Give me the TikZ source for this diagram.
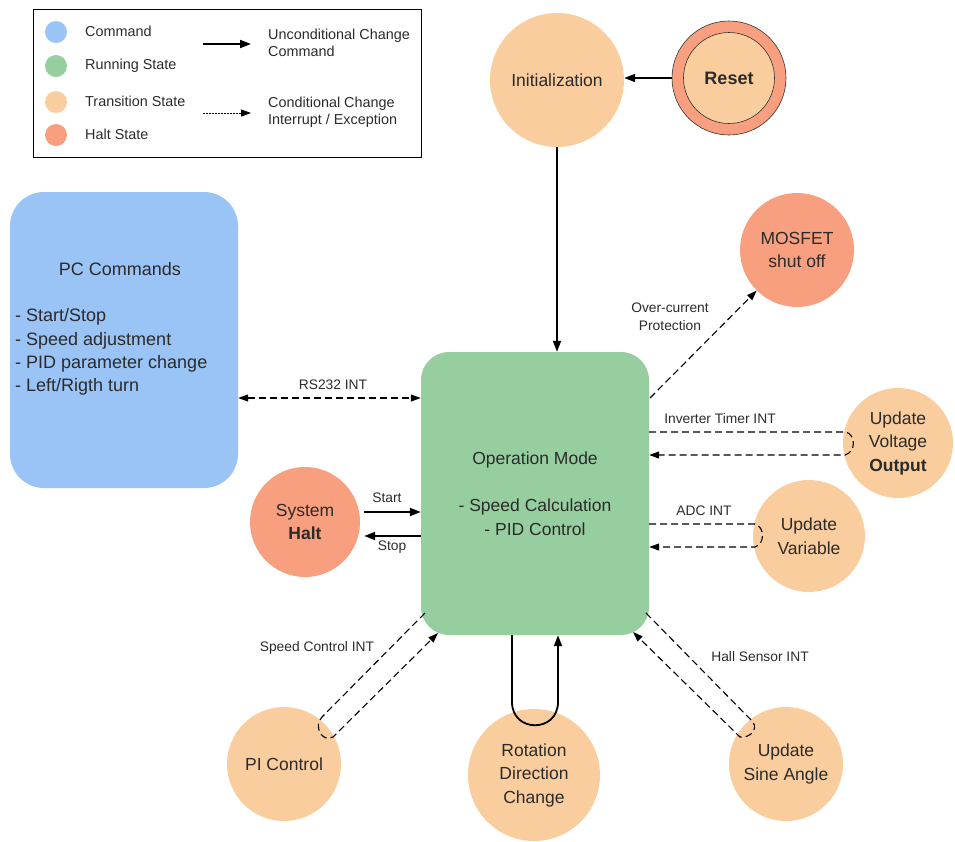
\documentclass[tikz,border=0pt]{standalone}
\usepackage{fontspec}
\setmainfont{Liberation Sans}
\usetikzlibrary{arrows.meta}
\definecolor{cmdblue}{HTML}{9AC3F6}
\definecolor{rungreen}{HTML}{97CE9F}
\definecolor{transpeach}{HTML}{FACD9E}
\definecolor{haltsalmon}{HTML}{F79F7F}
\definecolor{txt}{HTML}{2B2B2B}
\begin{document}
\begin{tikzpicture}[x=1pt,y=-1pt,
  big/.style={font=\fontsize{17.5}{23.5}\selectfont, text=txt, align=center},
  circ/.style={circle, inner sep=0pt, minimum size=#1},
  trans/.style={circ=#1, fill=transpeach, big},
  haltst/.style={circ=#1, fill=haltsalmon, big},
  lbl/.style={font=\fontsize{13.8}{18}\selectfont, text=txt, align=center, inner sep=0pt},
  legtxt/.style={font=\fontsize{14.4}{17}\selectfont, text=txt, align=left, anchor=west, inner sep=0pt},
  ctrl/.style={line width=1.8pt, -{Triangle[length=11pt,width=8pt]}},
  intr/.style={line width=1.1pt, dash pattern=on 7pt off 4pt, -{Triangle[length=10pt,width=7pt]}},
]
\useasboundingbox (0,0) rectangle (955,841);

% ---------- legend ----------
\node[draw, line width=0.8pt, minimum width=388pt, minimum height=148pt, inner sep=0pt] (leg) at (227,83) {};
\node[circ=22pt, fill=cmdblue] (lc1) at (56,32) {};
\node[circ=22pt, fill=rungreen] (lc2) at (56,66) {};
\node[circ=22pt, fill=transpeach] (lc3) at (56,102) {};
\node[circ=22pt, fill=haltsalmon] (lc4) at (56,135) {};
\node[legtxt] (lt1) at (85,31) {Command};
\node[legtxt] (lt2) at (85,66) {Running State};
\node[legtxt] (lt3) at (85,101) {Transition State};
\node[legtxt] (lt4) at (85,134) {Halt State};
\coordinate (la1s) at (203,44);
\coordinate (la1e) at (251,44);
\coordinate (la2s) at (203,113);
\coordinate (la2e) at (251,113);
\draw[ctrl] (la1s) -- (la1e);
\draw[line width=1pt, dash pattern=on 1.5pt off 1.5pt, -{Triangle[length=10pt,width=7pt]}] (la2s) -- (la2e);
\node[legtxt] (lt5) at (268,42.5) {Unconditional Change\\Command};
\node[legtxt] (lt6) at (268,112) {Conditional Change\\Interrupt / Exception};

% ---------- states ----------
\node[trans=134pt] (init) at (557,80) {Initialization};
\node[circ=114pt, fill=haltsalmon, draw=black!80, line width=0.6pt] (resetout) at (729,78) {};
\node[circ=91pt, fill=transpeach, draw=black!80, line width=0.6pt, text=txt,
      font={\fontsize{18}{23}\selectfont\bfseries}] (reset) at (729,78) {Reset};

\node[fill=rungreen, rounded corners=28pt, minimum width=228pt, minimum height=283pt, big] (op) at (535,493.5)
  {Operation Mode\\[23.5pt]- Speed Calculation\\- PID Control};

\node[fill=cmdblue, rounded corners=34pt, minimum width=228pt, minimum height=296pt] (pc) at (124,340) {};
\node[text=txt, font=\fontsize{18}{23}\selectfont] (pctitle) at (120,269) {PC Commands};
\node[font=\fontsize{18}{23.3}\selectfont, text=txt, align=left, anchor=west, inner sep=0pt] (pclist) at (15,352)
  {- Start/Stop\\- Speed adjustment\\- PID parameter change\\- Left/Rigth turn};

\node[haltst=110pt] (halt) at (305,522) {System\\\textbf{Halt}};
\node[haltst=114pt] (mos) at (797,250) {MOSFET\\shut off};
\node[trans=110pt] (uvo) at (898,443) {Update\\Voltage\\\textbf{Output}};
\node[trans=112pt] (uva) at (809,536) {Update\\Variable};
\node[trans=114pt] (pi) at (284,764) {PI Control};
\node[trans=132pt] (rot) at (534,775) {Rotation\\Direction\\Change};
\node[trans=114pt] (usa) at (786,764) {Update\\Sine Angle};

% ---------- connectors ----------
\draw[ctrl] (resetout.west) -- (init.east |- resetout.west);
\draw[ctrl] (init.south) -- (init.south |- op.north);

\draw[intr, {Triangle[length=10pt,width=7pt]}-{Triangle[length=10pt,width=7pt]}] (pc.east |- 0,398) -- (op.west |- 0,398);
\node[lbl] (rslbl) at (333,385) {RS232 INT};

\draw[ctrl] ([xshift=4pt]halt.east |- 0,512) -- (op.west |- 0,512);
\draw[ctrl] (op.west |- 0,536) -- ([xshift=4pt]halt.east |- 0,536);
\node[lbl] (startlbl) at (387,498) {Start};
\node[lbl] (stoplbl) at (392,547) {Stop};

\coordinate (oc1) at (650,398);
\draw[intr] (oc1) -- (mos);
\node[lbl] (oclbl) at (670,317) {Over-current\\Protection};

\coordinate (uvoA) at (846,432);
\coordinate (uvoB) at (845,455);
\draw[intr] (op.east |- uvoA) -- (uvoA) .. controls (856,435) and (856,452) .. (uvoB) -- (op.east |- uvoB);
\node[lbl] (invlbl) at (720,419) {Inverter Timer INT};

\coordinate (uvaA) at (755,524);
\coordinate (uvaB) at (755,547);
\draw[intr] (op.east |- uvaA) -- (uvaA) .. controls (765,527) and (765,544) .. (uvaB) -- (op.east |- uvaB);
\node[lbl] (adclbl) at (704,511) {ADC INT};

\coordinate (piA) at (322,717);
\coordinate (piB) at (333,737);
\coordinate (opA) at (425,613);
\coordinate (opB) at (438,633);
\draw[intr] (opA) -- (piA) .. controls (313,726) and (322,743) .. (piB) -- (opB);
\node[lbl] (sclbl) at (317,648) {Speed Control INT};

\coordinate (rotA) at (512,702);
\coordinate (rotB) at (558,702);
\draw[ctrl] (op.south -| rotA) -- (rotA) .. controls (512,733) and (558,733) .. (rotB) -- (op.south -| rotB);

\coordinate (usaA) at (753,722);
\coordinate (usaB) at (740,737);
\coordinate (opC) at (646,613);
\coordinate (opD) at (633,632);
\draw[intr] (opC) -- (usaA) .. controls (758,730) and (750,738) .. (usaB) -- (opD);
\node[lbl] (halllbl) at (760,657) {Hall Sensor INT};
\end{tikzpicture}
\end{document}
